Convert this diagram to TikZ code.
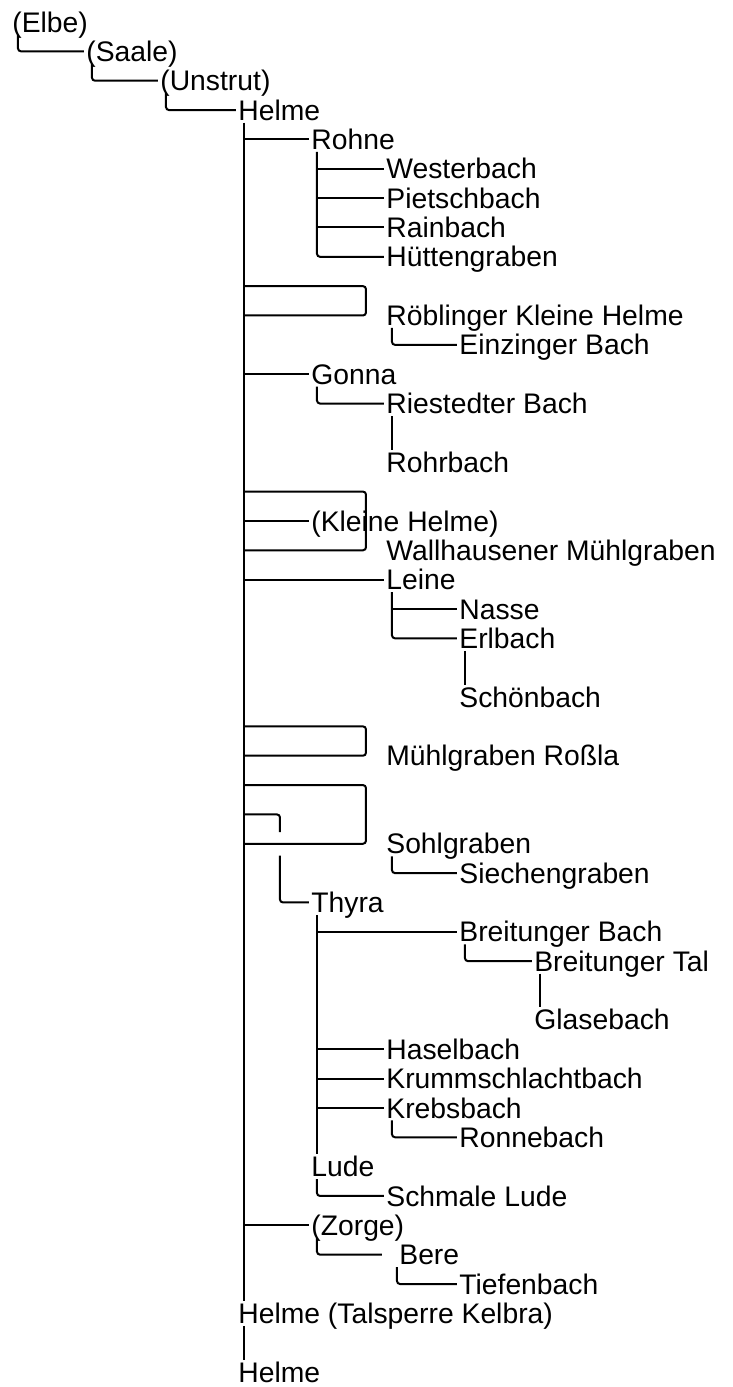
\documentclass[tikz,border=0pt]{standalone}
\usepackage{fontspec}
\setmainfont{Liberation Sans}
\tikzset{
  river/.style={anchor=west, inner xsep=1pt, inner ysep=1pt, text height=10.1pt, text depth=0pt,
    font=\fontsize{14.15pt}{17pt}\selectfont},
  link/.style={line width=1pt, rounded corners=1.5pt},
}
\begin{document}
\begin{tikzpicture}[x=0.5pt, y=-14.675pt]
\useasboundingbox (0,-0.75) rectangle (733,46.51);
% main stems
\node[river] (elbe) at (10,0) {(Elbe)};
\node[river] (saale) at (84,1) {(Saale)};
\node[river] (unstrut) at (158,2) {(Unstrut)};
\node[river] (helme) at (236,3) {Helme};
\draw[link] ([xshift=4pt]elbe.south west) |- (saale.west);
\draw[link] ([xshift=4pt]saale.south west) |- (unstrut.west);
\draw[link] ([xshift=4pt]unstrut.south west) |- (helme.west);
% Rohne
\node[river] (rohne) at (309,4) {Rohne};
\node[river] (wester) at (384,5) {Westerbach};
\node[river] (pietsch) at (384,6) {Pietschbach};
\node[river] (rain) at (384,7) {Rainbach};
\node[river] (huetten) at (384,8) {Hüttengraben};
% Roeblinger Kleine Helme
\node[river] (roebl) at (384,10) {Röblinger Kleine Helme};
\node[river] (einz) at (457,11) {Einzinger Bach};
% Gonna
\node[river] (gonna) at (309,12) {Gonna};
\node[river] (riest) at (384,13) {Riestedter Bach};
\node[river] (rohr) at (384,15) {Rohrbach};
% Kleine Helme
\node[river] (kleine) at (309,17) {(Kleine Helme)};
\node[river] (wallh) at (384,18) {Wallhausener Mühlgraben};
% Leine
\node[river] (leine) at (384,19) {Leine};
\node[river] (nasse) at (457,20) {Nasse};
\node[river] (erl) at (457,21) {Erlbach};
\node[river] (schoen) at (457,23) {Schönbach};
% Rossla, Sohlgraben
\node[river] (rossla) at (384,25) {Mühlgraben Roßla};
\node[river] (sohl) at (384,28) {Sohlgraben};
\node[river] (siechen) at (457,29) {Siechengraben};
% Thyra
\node[river] (thyra) at (309,30) {Thyra};
\node[river] (breitb) at (457,31) {Breitunger Bach};
\node[river] (breitt) at (532,32) {Breitunger Tal};
\node[river] (glase) at (532,34) {Glasebach};
\node[river] (hasel) at (384,35) {Haselbach};
\node[river] (krumm) at (384,36) {Krummschlachtbach};
\node[river] (krebs) at (384,37) {Krebsbach};
\node[river] (ronne) at (457,38) {Ronnebach};
\node[river] (lude) at (309,39) {Lude};
\node[river] (schmal) at (384,40) {Schmale Lude};
% Zorge
\node[river] (zorge) at (309,41) {(Zorge)};
\node[river] (bere) at (397,42) {Bere};
\node[river] (tiefen) at (457,43) {Tiefenbach};
% lower Helme
\node[river] (kelbra) at (236,44) {Helme (Talsperre Kelbra)};
\node[river] (helmeend) at (236,46) {Helme};

% trunk
\coordinate (trunk) at ([xshift=4pt]helme.south west);
\draw[link] (trunk) -- (trunk |- kelbra.north);
\draw[link] ([xshift=4pt]kelbra.south west) -- ([xshift=4pt]helmeend.north west);
\foreach \n in {rohne,gonna,kleine,leine,zorge}
  \draw[link] (trunk |- \n.west) -- (\n.west);

% Rohne branch
\coordinate (rohnev) at ([xshift=4pt]rohne.south west);
\draw[link] (rohnev) |- (huetten.west);
\foreach \n in {wester,pietsch,rain}
  \draw[link] (rohnev |- \n.west) -- (\n.west);

% loops
\draw[link] (trunk |- 0,9) -| ([xshift=-9pt]roebl.west) -- (trunk |- roebl.west);
\draw[link] (trunk |- 0,16) -| ([xshift=-9pt]wallh.west) -- (trunk |- wallh.west);
\draw[link] (trunk |- 0,24) -| ([xshift=-9pt]rossla.west) -- (trunk |- rossla.west);
\draw[link] (trunk |- 0,26) -| ([xshift=-9pt]sohl.west) -- (trunk |- sohl.west);
\draw[link] (trunk |- 0,27) -| (280,27.6);
\draw[link] (280,28.4) |- (thyra.west);

% side branches
\draw[link] ([xshift=4pt]roebl.south west) |- (einz.west);
\draw[link] ([xshift=4pt]gonna.south west) |- (riest.west);
\draw[link] ([xshift=4pt]riest.south west) -- ([xshift=4pt]rohr.north west);
\coordinate (leinev) at ([xshift=4pt]leine.south west);
\draw[link] (leinev) |- (erl.west);
\draw[link] (leinev |- nasse.west) -- (nasse.west);
\draw[link] ([xshift=4pt]erl.south west) -- ([xshift=4pt]schoen.north west);
\draw[link] ([xshift=4pt]sohl.south west) |- (siechen.west);

% Thyra branch
\coordinate (thyrav) at ([xshift=4pt]thyra.south west);
\draw[link] (thyrav) -- (thyrav |- lude.north);
\foreach \n in {breitb,hasel,krumm,krebs}
  \draw[link] (thyrav |- \n.west) -- (\n.west);
\draw[link] ([xshift=4pt]breitb.south west) |- (breitt.west);
\draw[link] ([xshift=4pt]breitt.south west) -- ([xshift=4pt]glase.north west);
\draw[link] ([xshift=4pt]krebs.south west) |- (ronne.west);
\draw[link] ([xshift=4pt]lude.south west) |- (schmal.west);

% Zorge branch
\draw[link] ([xshift=4pt]zorge.south west) |- ([xshift=-7.5pt]bere.west);
\draw[link] (bere.south west) |- (tiefen.west);
\end{tikzpicture}
\end{document}
